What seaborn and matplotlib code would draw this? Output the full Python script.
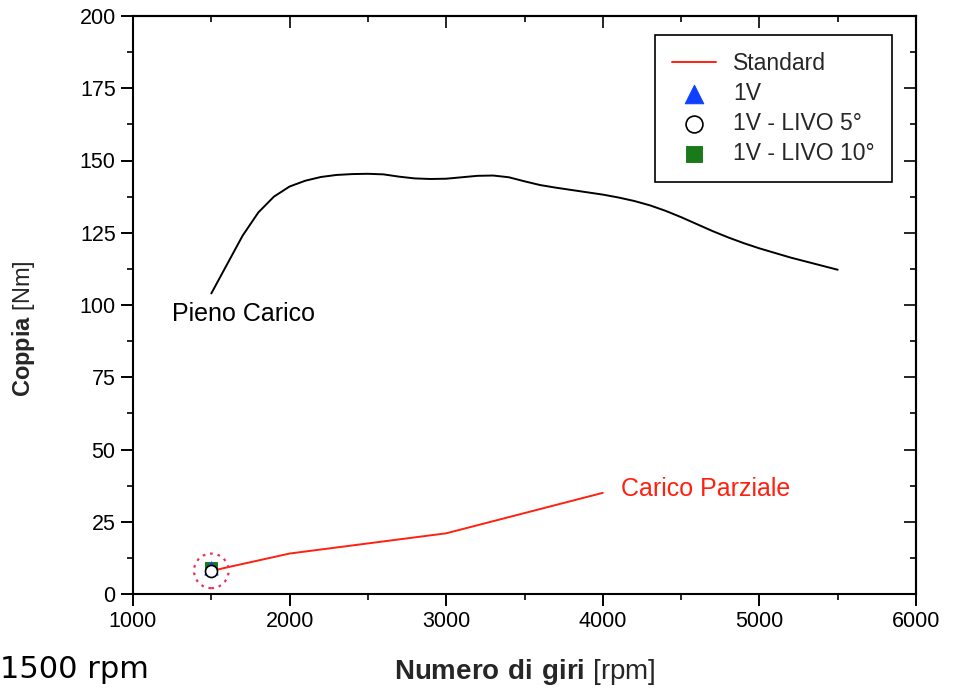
import matplotlib
matplotlib.use("Agg")
import matplotlib.pyplot as plt
import seaborn as sns
import pandas as pd

# ---- data ----
full_rpm = [1500, 1600, 1700, 1800, 1900, 2000, 2100, 2200, 2300, 2400, 2500,
            2600, 2700, 2800, 2900, 3000, 3100, 3200, 3300, 3400, 3500, 3600,
            3700, 3800, 3900, 4000, 4100, 4200, 4300, 4400, 4500, 4600, 4700,
            4800, 4900, 5000, 5100, 5200, 5300, 5400, 5500]
full_torque = [104, 114, 124, 132, 137.5, 141, 143, 144.3, 145, 145.3, 145.4,
               145.2, 144.4, 143.8, 143.6, 143.7, 144.2, 144.7, 144.8, 144.2, 142.8, 141.5,
               140.6, 139.8, 139, 138.2, 137.2, 136, 134.5, 132.6, 130.4, 128, 125.6,
               123.4, 121.4, 119.6, 118, 116.4, 115, 113.6, 112.2]

part_rpm = [1500, 2000, 3000, 4000]
part_torque = [8, 14, 21, 35]

pt_rpm = [1500]
pt_1v = [9]
pt_livo5 = [8]
pt_livo10 = [9]

xticks = [1000, 2000, 3000, 4000, 5000, 6000]
yticks = [0, 25, 50, 75, 100, 125, 150, 175, 200]
xminor = [1500, 2500, 3500, 4500, 5500]
yminor = [12.5, 37.5, 62.5, 87.5, 112.5, 137.5, 162.5, 187.5]

sns.set_theme(style="white")
plt.rcParams['font.family'] = ['Liberation Sans', 'DejaVu Sans']
plt.rcParams['mathtext.fontset'] = 'custom'
plt.rcParams['mathtext.rm'] = 'Liberation Sans'
plt.rcParams['mathtext.bf'] = 'Liberation Sans:bold'

fig = plt.figure(figsize=(9.55, 6.88), dpi=100)
ax = fig.add_axes([133/955, 1-594/688, (916-133)/955, (594-16)/688])

df_full = pd.DataFrame({"rpm": full_rpm, "torque": full_torque})
df_part = pd.DataFrame({"rpm": part_rpm, "torque": part_torque})

sns.lineplot(data=df_full, x="rpm", y="torque", color="black", lw=1.4, ax=ax,
             estimator=None, sort=False)
sns.lineplot(data=df_part, x="rpm", y="torque", color="#ff2010", lw=1.4, ax=ax,
             estimator=None, sort=False, label="Standard")
sns.scatterplot(x=pt_rpm, y=pt_livo10, marker="s", color="#1a7a1a", s=70,
                edgecolor="#1a7a1a", ax=ax, label="1V - LIVO 10°", zorder=4)
sns.scatterplot(x=pt_rpm, y=pt_1v, marker="^", color="#1040ff", s=90,
                edgecolor="#1040ff", ax=ax, label="1V", zorder=5)
sns.scatterplot(x=pt_rpm, y=pt_livo5, marker="o", color="white", s=75,
                edgecolor="black", linewidth=1.2, ax=ax, label="1V - LIVO 5°", zorder=6)
ax.scatter(pt_rpm, pt_livo5, s=620, facecolors="none", edgecolors="#e8305a",
           linewidths=1.6, linestyles=(0, (1.2, 2.2)), zorder=3)

ax.set_xlim(1000, 6000)
ax.set_ylim(0, 200)
ax.set_xticks(xticks)
ax.set_yticks(yticks)
ax.set_xticks(xminor, minor=True)
ax.set_yticks(yminor, minor=True)
ax.tick_params(axis="both", which="major", direction="out", length=8.5, width=1.4,
               labelsize=15.5, colors="black", pad=4, bottom=True, left=True)
ax.tick_params(axis="both", which="minor", direction="out", length=4.3, width=1.4,
               bottom=True, left=True)

for side in ax.spines.values():
    side.set_linewidth(1.5)
    side.set_color("black")

# top / right inward ticks
sx = ax.secondary_xaxis("top")
sx.set_xticks(xticks)
sx.set_xticks(xminor, minor=True)
sx.tick_params(which="major", direction="in", length=8.5, width=1.4, labeltop=False)
sx.tick_params(which="minor", direction="in", length=4.3, width=1.4)
sx.set_xticklabels([])
sx.spines["top"].set_linewidth(1.5)
sy = ax.secondary_yaxis("right")
sy.set_yticks(yticks)
sy.set_yticks(yminor, minor=True)
sy.tick_params(which="major", direction="in", length=8.5, width=1.4, labelright=False)
sy.tick_params(which="minor", direction="in", length=4.3, width=1.4)
sy.set_yticklabels([])
sy.spines["right"].set_linewidth(1.5)

ax.set_xlabel(r"$\bf{Numero\ di\ giri}$ [rpm]", fontsize=20, labelpad=18)
ax.set_ylabel(r"$\bf{Coppia}$ [Nm]", fontsize=17)
ax.yaxis.set_label_coords(-0.122, 0.46)

ax.text(1249, 97, "Pieno Carico", fontsize=18, ha="left", va="center", color="black")
ax.text(4116, 36.3, "Carico Parziale", fontsize=18, ha="left", va="center", color="#ff2010")

handles, labels = ax.get_legend_handles_labels()
order = ["Standard", "1V", "1V - LIVO 5°", "1V - LIVO 10°"]
hmap = dict(zip(labels, handles))
leg = ax.legend([hmap[k] for k in order], order, loc="upper right",
                bbox_to_anchor=(0.969, 0.967), borderaxespad=0, fontsize=16.5,
                frameon=True, fancybox=False, edgecolor="black", framealpha=1,
                handlelength=1.9, handletextpad=0.75, labelspacing=0.3,
                borderpad=0.75, markerscale=1.4)
leg.get_frame().set_linewidth(1.2)

fig.text(0.0, 0.014, "1500 rpm", fontsize=22, family="DejaVu Sans",
         ha="left", va="baseline", color="black")

fig.savefig("out.png", dpi=100)
